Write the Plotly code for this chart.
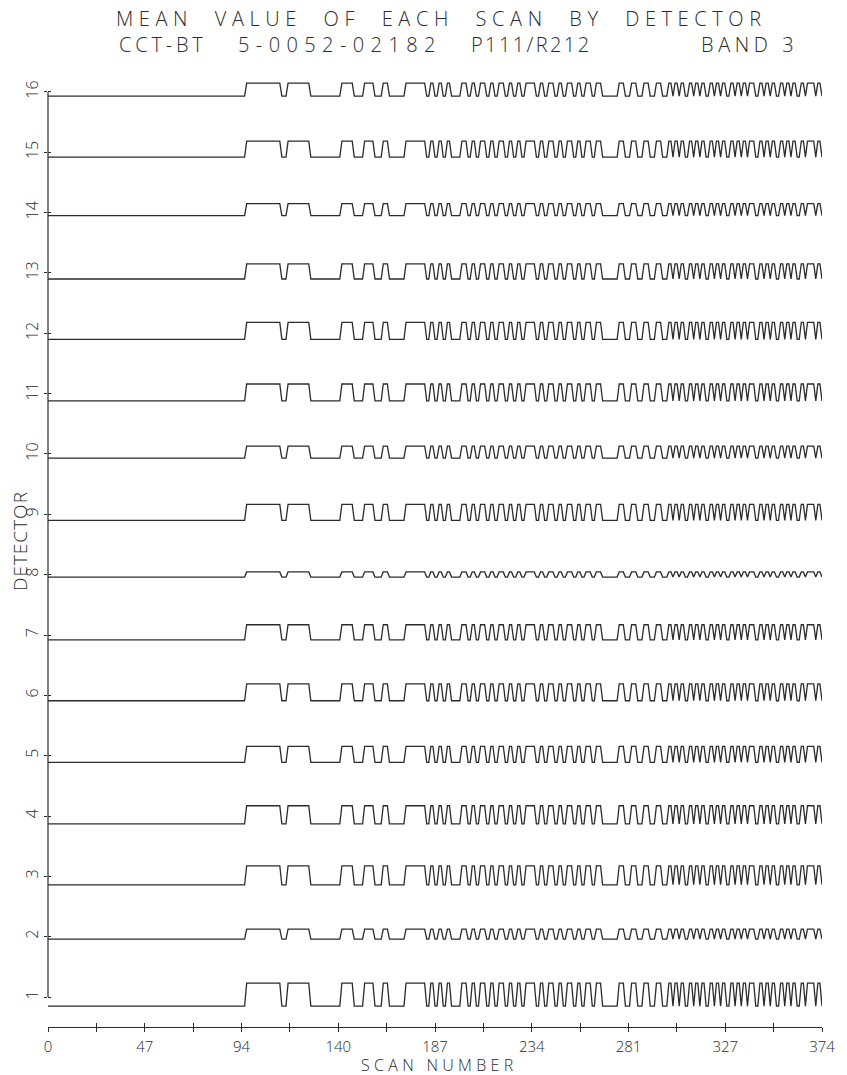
import plotly.graph_objects as go

# ---------------- data ----------------
SCAN_MAX = 374
DETECTORS = list(range(1, 17))

# level of the low (background) part of each detector's trace, below the detector tick (detector units)
LOW_OFFSET = [0.15, 0.04, 0.14, 0.13, 0.11, 0.09, 0.08, 0.04,
              0.10, 0.07, 0.12, 0.10, 0.10, 0.05, 0.08, 0.07]
# height of the high part above the low part (detector units)
AMPLITUDE = [0.38, 0.165, 0.315, 0.30, 0.265, 0.28, 0.25, 0.085,
             0.265, 0.20, 0.28, 0.28, 0.25, 0.20, 0.265, 0.215]

# common scan pattern, as alternating run lengths (low, high, low, high, ...) in scans 0..374
RUN_LENGTHS = [96, 17, 3, 11, 15, 6, 5, 5, 4, 3, 8, 10, 2, 2, 2, 2, 2, 2, 5, 3,
               2, 2, 2, 3, 2, 2, 2, 3, 2, 2, 2, 2, 2, 5,
               2, 2, 2, 3, 2, 2, 2, 3, 2, 2, 2, 3, 2, 3, 8,
               3, 3, 3, 3, 3, 3, 3, 3, 2,
               1, 2, 1, 2, 2, 2, 1, 2, 1, 2, 2, 2, 1, 2, 1, 2, 2, 2,
               1, 2, 1, 2, 1, 3, 2, 2,
               1, 2, 1, 2, 2, 2, 1, 2, 1, 2, 2, 2, 1, 4, 1, 2, 1]

X_MAJOR_TICKS = [0, 46.75, 93.5, 140.25, 187, 233.75, 280.5, 327.25, 374]
X_MAJOR_LABELS = ["0", "47", "94", "140", "187", "234", "281", "327", "374"]
X_MINOR_TICKS = [23.375, 70.125, 116.875, 163.625, 210.375, 257.125, 303.875, 350.625]
Y_TICK_LABELS = [str(d) for d in DETECTORS]

TITLE_1 = "MEAN VALUE OF EACH SCAN BY DETECTOR"
TITLE_2 = ["CCT-BT", "5-0052-02182", "P111/R212", "BAND 3"]
X_TITLE = "SCAN NUMBER"
Y_TITLE = "DETECTOR"

# ---------------- build ----------------
pattern = []
for i, n in enumerate(RUN_LENGTHS):
    pattern += [i % 2] * n
scans = list(range(len(pattern)))

INK = "#2b2b2b"
FONT = "Open Sans"

fig = go.Figure()
for det, off, amp in zip(DETECTORS, LOW_OFFSET, AMPLITUDE):
    fig.add_trace(go.Scatter(
        x=scans, y=[det - off + amp * v for v in pattern],
        mode="lines", line=dict(color=INK, width=1.3),
        showlegend=False, hoverinfo="skip"))

# helper trace for overlay axes (used only for inward tick marks)
fig.add_trace(go.Scatter(x=[None], y=[None], xaxis="x2", yaxis="y2",
                         showlegend=False, hoverinfo="skip"))

Y_RANGE = [0.5033, 16.364]
x_ticks = sorted(X_MAJOR_TICKS + X_MINOR_TICKS)
x_text = [X_MAJOR_LABELS[X_MAJOR_TICKS.index(t)] if t in X_MAJOR_TICKS else "" for t in x_ticks]

fig.update_layout(
    width=847, height=1075,
    margin=dict(l=48, r=23, t=70, b=48),
    paper_bgcolor="white", plot_bgcolor="white",
    showlegend=False,
    xaxis=dict(range=[0, SCAN_MAX], showgrid=False, zeroline=False,
               showline=True, linecolor=INK, linewidth=1.2,
               tickmode="array", tickvals=x_ticks, ticktext=x_text,
               ticks="outside", ticklen=4, tickwidth=1.2, tickcolor=INK,
               tickfont=dict(family=FONT, size=15, color=INK, weight=300),
               ticklabelstandoff=2),
    xaxis2=dict(range=[0, SCAN_MAX], overlaying="x", anchor="y2", side="bottom",
                showgrid=False, zeroline=False, showline=False,
                tickmode="array", tickvals=x_ticks, showticklabels=False,
                ticks="inside", ticklen=4, tickwidth=1.2, tickcolor=INK),
    yaxis=dict(range=Y_RANGE, showgrid=False, zeroline=False, showline=False,
               tickmode="array", tickvals=DETECTORS, ticktext=Y_TICK_LABELS,
               ticks="outside", ticklen=3, tickwidth=1.2, tickcolor=INK,
               tickangle=-90, tickfont=dict(family=FONT, size=16, color=INK, weight=300)),
    yaxis2=dict(range=Y_RANGE, overlaying="y", anchor="x2", side="left",
                showgrid=False, zeroline=False, showline=False,
                tickmode="array", tickvals=DETECTORS, showticklabels=False,
                ticks="inside", ticklen=3, tickwidth=1.2, tickcolor=INK),
)

# y axis line from detector 1 to detector 16
span = Y_RANGE[1] - Y_RANGE[0]
fig.add_shape(type="line", xref="paper", yref="paper", x0=0, x1=0,
              y0=(DETECTORS[0] - Y_RANGE[0]) / span, y1=(DETECTORS[-1] - Y_RANGE[0]) / span,
              line=dict(color=INK, width=1.2))

nb = "\u00a0"
PLOT_L, PLOT_W = 48, 776


def px_x(p):
    return (p - PLOT_L) / PLOT_W


title_font = dict(family=FONT, size=20, color=INK, weight=300)
fig.add_annotation(
    text='<span style="letter-spacing:5.6px">' + TITLE_1.replace(" ", " " + nb) + "</span>",
    xref="paper", yref="paper", x=px_x(443), y=1, yshift=52,
    xanchor="center", yanchor="middle", showarrow=False, font=title_font)

# second title line: four fields placed where the reference plotter put them
for txt, left, spacing in zip(TITLE_2, [117, 236, 470, 701], [3.8, 6.4, 2.4, 4.6]):
    fig.add_annotation(
        text='<span style="letter-spacing:%spx">%s</span>' % (spacing, txt),
        xref="paper", yref="paper", x=px_x(left), y=1, yshift=26,
        xanchor="left", yanchor="middle", showarrow=False, font=title_font)

fig.add_annotation(text='<span style="letter-spacing:4.3px">' + X_TITLE + "</span>",
                   xref="paper", yref="paper", x=px_x(441), y=0, yshift=-37.5,
                   xanchor="center", yanchor="middle", showarrow=False,
                   font=dict(family=FONT, size=16, color=INK, weight=300))
fig.add_annotation(text='<span style="letter-spacing:1px">' + Y_TITLE + "</span>",
                   xref="paper", yref="paper", x=0, xshift=-28, y=(1027 - 541) / 957,
                   xanchor="center", yanchor="middle", textangle=-90, showarrow=False,
                   font=dict(family=FONT, size=19, color=INK, weight=300))

fig.write_html("out.html")
